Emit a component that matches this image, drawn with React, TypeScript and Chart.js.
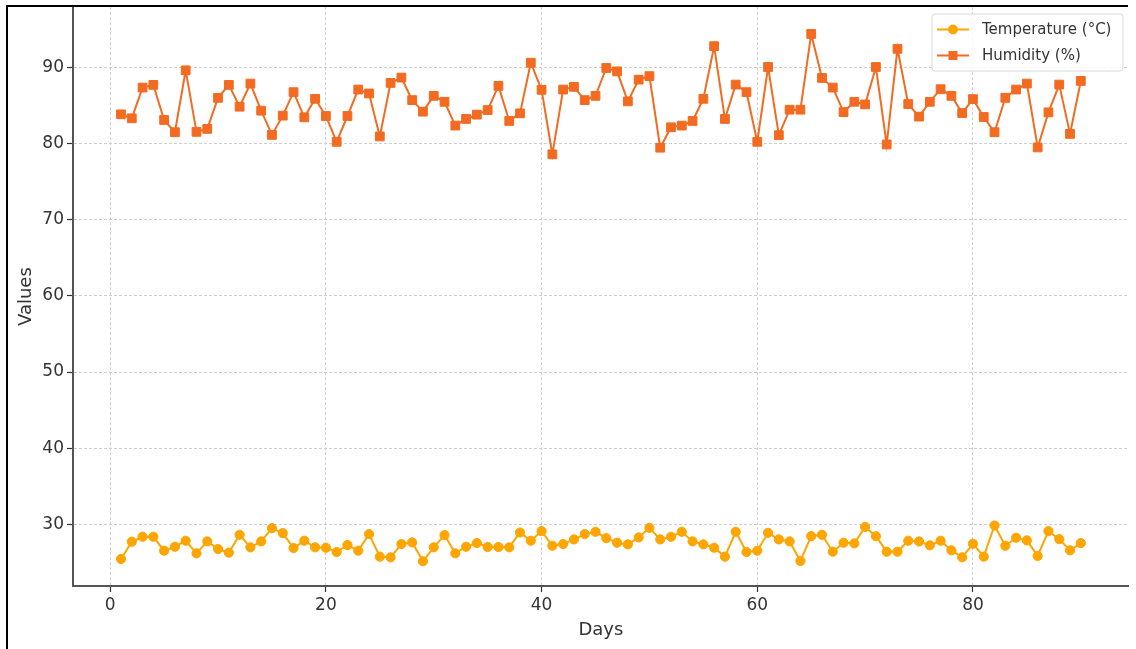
import { useEffect, useRef } from "react";
import { Chart, registerables } from "chart.js";

Chart.register(...registerables);

const days = [
  1, 2, 3, 4, 5, 6, 7, 8, 9, 10, 11, 12, 13, 14, 15, 16, 17, 18, 19, 20,
  21, 22, 23, 24, 25, 26, 27, 28, 29, 30, 31, 32, 33, 34, 35, 36, 37, 38, 39, 40,
  41, 42, 43, 44, 45, 46, 47, 48, 49, 50, 51, 52, 53, 54, 55, 56, 57, 58, 59, 60,
  61, 62, 63, 64, 65, 66, 67, 68, 69, 70, 71, 72, 73, 74, 75, 76, 77, 78, 79, 80,
  81, 82, 83, 84, 85, 86, 87, 88, 89, 90,
];

const temperature = [
  25.43, 27.7, 28.35, 28.35, 26.52, 27.04, 27.83, 26.17, 27.74, 26.74,
  26.26, 28.61, 26.96, 27.74, 29.48, 28.83, 26.87, 27.83, 26.96, 26.91,
  26.35, 27.26, 26.52, 28.7, 25.74, 25.65, 27.39, 27.61, 25.13, 26.96,
  28.57, 26.17, 27.04, 27.52, 27.0, 27.0, 26.96, 28.91, 27.83, 29.09,
  27.17, 27.39, 28.0, 28.7, 29.0, 28.17, 27.57, 27.35, 28.26, 29.52,
  28.0, 28.35, 29.0, 27.74, 27.35, 26.91, 25.74, 29.0, 26.35, 26.52,
  28.87, 28.0, 27.74, 25.17, 28.43, 28.61, 26.39, 27.57, 27.48, 29.65,
  28.43, 26.39, 26.39, 27.83, 27.74, 27.22, 27.83, 26.57, 25.65, 27.43,
  25.74, 29.83, 27.17, 28.22, 27.87, 25.83, 29.09, 28.04, 26.57, 27.52,
];

const humidity = [
  83.87, 83.35, 87.39, 87.74, 83.13, 81.52, 89.65, 81.57, 81.96, 86.04,
  87.74, 84.87, 87.91, 84.35, 81.17, 83.7, 86.78, 83.48, 85.91, 83.65,
  80.26, 83.65, 87.13, 86.61, 80.96, 88.0, 88.7, 85.74, 84.22, 86.3,
  85.52, 82.39, 83.26, 83.83, 84.43, 87.61, 83.0, 84.0, 90.65, 87.09,
  78.61, 87.13, 87.48, 85.74, 86.3, 89.96, 89.52, 85.57, 88.43, 88.89,
  79.48, 82.17, 82.39, 83.0, 85.91, 92.83, 83.26, 87.78, 86.78, 80.26,
  90.09, 81.13, 84.48, 84.48, 94.43, 88.65, 87.39, 84.17, 85.52, 85.17,
  90.09, 79.91, 92.48, 85.22, 83.57, 85.52, 87.17, 86.3, 84.04, 85.87,
  83.52, 81.52, 86.04, 87.13, 87.91, 79.52, 84.13, 87.78, 81.3, 88.26,
];

const xTicks = [0, 20, 40, 60, 80];
const yTicks = [30, 40, 50, 60, 70, 80, 90];
const seriesLabels = ["Temperature (°C)", "Humidity (%)"];
const xTitle = "Days";
const yTitle = "Values";

const TEMP_COLOR = "#FFA500";
const HUM_COLOR = "#F26B21";
const FONT = "'DejaVu Sans', sans-serif";
const TEXT = "#333333";

const frameAndLegend = {
  id: "frameAndLegend",
  afterDraw(chart: any) {
    const ctx = chart.ctx;
    ctx.save();
    // legend box
    const x0 = 932, y0 = 14, w = 191, h = 57, r = 3;
    ctx.beginPath();
    ctx.moveTo(x0 + r, y0);
    ctx.lineTo(x0 + w - r, y0);
    ctx.quadraticCurveTo(x0 + w, y0, x0 + w, y0 + r);
    ctx.lineTo(x0 + w, y0 + h - r);
    ctx.quadraticCurveTo(x0 + w, y0 + h, x0 + w - r, y0 + h);
    ctx.lineTo(x0 + r, y0 + h);
    ctx.quadraticCurveTo(x0, y0 + h, x0, y0 + h - r);
    ctx.lineTo(x0, y0 + r);
    ctx.quadraticCurveTo(x0, y0, x0 + r, y0);
    ctx.closePath();
    ctx.fillStyle = "rgba(255,255,255,0.85)";
    ctx.fill();
    ctx.strokeStyle = "#d9d9d9";
    ctx.lineWidth = 1;
    ctx.stroke();

    const colors = [TEMP_COLOR, HUM_COLOR];
    seriesLabels.forEach((label, i) => {
      const cy = 29.5 + i * 26;
      ctx.strokeStyle = colors[i];
      ctx.lineWidth = 2;
      ctx.beginPath();
      ctx.moveTo(937, cy);
      ctx.lineTo(969, cy);
      ctx.stroke();
      ctx.fillStyle = colors[i];
      if (i === 0) {
        ctx.beginPath();
        ctx.arc(953, cy, 5, 0, Math.PI * 2);
        ctx.fill();
      } else {
        ctx.fillRect(953 - 4.5, cy - 4.5, 9, 9);
      }
      ctx.fillStyle = TEXT;
      ctx.font = `15px ${FONT}`;
      ctx.textBaseline = "middle";
      ctx.textAlign = "left";
      ctx.fillText(label, 982, cy + 1);
    });

    // outer frame of the picture
    ctx.fillStyle = "#000";
    ctx.fillRect(6, 5, 2, 644);
    ctx.fillRect(6, 5, 1122, 2);
    ctx.restore();
  },
};

export default function App() {
  const ref = useRef<HTMLCanvasElement | null>(null);

  useEffect(() => {
    if (!ref.current) return;
    const tempPoints = days.map((d, i) => ({ x: d, y: temperature[i] }));
    const humPoints = days.map((d, i) => ({ x: d, y: humidity[i] }));

    const chart = new Chart(ref.current, {
      type: "line",
      data: {
        datasets: [
          {
            label: seriesLabels[0],
            data: tempPoints,
            borderColor: TEMP_COLOR,
            backgroundColor: TEMP_COLOR,
            pointBackgroundColor: TEMP_COLOR,
            pointBorderColor: TEMP_COLOR,
            pointStyle: "circle",
            pointRadius: 4.6,
            pointBorderWidth: 1,
            borderWidth: 2,
            tension: 0,
          },
          {
            label: seriesLabels[1],
            data: humPoints,
            borderColor: HUM_COLOR,
            backgroundColor: HUM_COLOR,
            pointBackgroundColor: HUM_COLOR,
            pointBorderColor: HUM_COLOR,
            pointStyle: "rect",
            pointRadius: 6.2,
            pointBorderWidth: 1,
            borderWidth: 2,
            tension: 0,
          },
        ],
      },
      options: {
        responsive: false,
        animation: false,
        layout: { padding: { left: 0, top: 5, right: 3, bottom: 0 } },
        plugins: {
          legend: { display: false },
          tooltip: { enabled: false },
        },
        scales: {
          x: {
            type: "linear",
            min: -3.45,
            max: 94.45,
            afterBuildTicks: (scale: any) => {
              scale.ticks = xTicks.map((v) => ({ value: v }));
            },
            afterFit: (scale: any) => {
              scale.height = 63;
              scale.paddingLeft = 0;
              scale.paddingRight = 0;
            },
            ticks: {
              color: TEXT,
              font: { family: FONT, size: 17 },
              padding: 3,
              maxRotation: 0,
            },
            grid: {
              color: "#cfcfcf",
              lineWidth: 1,
              drawTicks: true,
              tickLength: 6,
              tickColor: "#333",
              tickWidth: 1.2,
            },
            border: { display: true, color: "#555", width: 2, dash: [3, 2] },
            title: {
              display: true,
              text: xTitle,
              color: TEXT,
              font: { family: FONT, size: 18 },
              padding: { top: 0, bottom: 8 },
            },
          },
          y: {
            type: "linear",
            min: 21.88,
            max: 97.95,
            afterBuildTicks: (scale: any) => {
              scale.ticks = yTicks.map((v) => ({ value: v }));
            },
            afterFit: (scale: any) => {
              scale.width = 73;
              scale.paddingTop = 0;
              scale.paddingBottom = 0;
            },
            ticks: {
              color: TEXT,
              font: { family: FONT, size: 17 },
              padding: 3,
            },
            grid: {
              color: "#cfcfcf",
              lineWidth: 1,
              drawTicks: true,
              tickLength: 6,
              tickColor: "#333",
              tickWidth: 1.2,
            },
            border: { display: true, color: "#555", width: 2, dash: [3, 2] },
            title: {
              display: true,
              text: yTitle,
              color: TEXT,
              font: { family: FONT, size: 18 },
              padding: { top: 16, bottom: 0 },
            },
          },
        },
      },
      plugins: [frameAndLegend],
    } as any);

    return () => chart.destroy();
  }, []);

  return (
    <div style={{ position: "absolute", left: 0, top: 0, width: 1136, height: 649, background: "#fff" }}>
      <canvas ref={ref} width={1136} height={649} style={{ display: "block" }} />
    </div>
  );
}
